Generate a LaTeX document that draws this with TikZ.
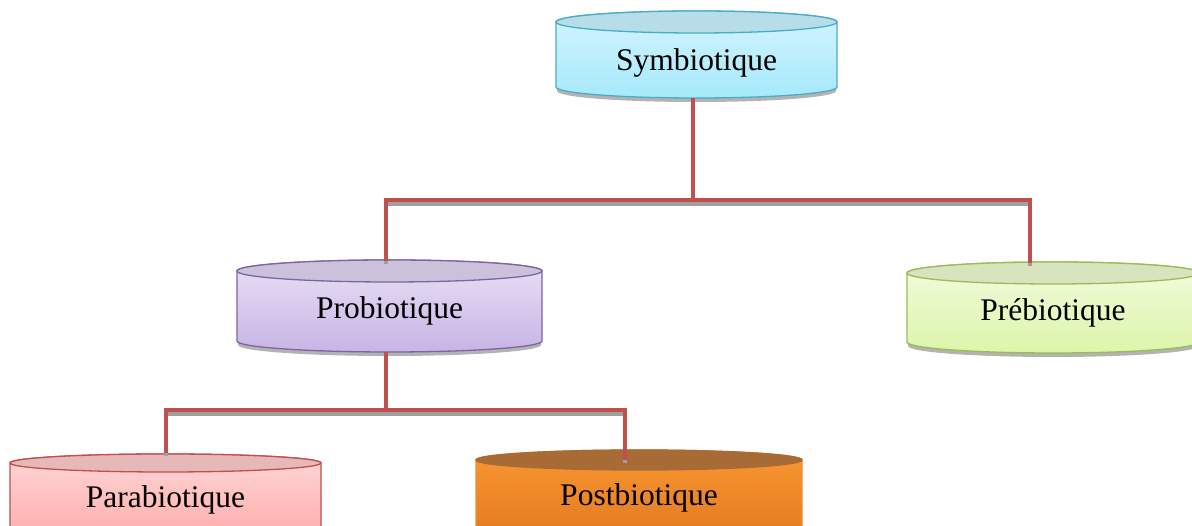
\documentclass[tikz,border=0pt]{standalone}
\usepackage{fontspec}
\setmainfont{Liberation Serif}
\definecolor{connred}{HTML}{C0504D}
\definecolor{shadowgrey}{HTML}{A0A0A0}
\tikzset{
  lbl/.style={font=\fontsize{31.5}{37}\selectfont, text=black, inner sep=0pt},
  conn/.style={draw=connred, line width=4.3pt, line cap=butt, line join=miter},
  connshadow/.style={draw=shadowgrey, line width=4.3pt, transform canvas={yshift=-3.5pt}},
  cylshadow/.style={fill=shadowgrey!80},
  symBody/.style={top color={rgb,255:red,212;green,244;blue,253}, bottom color={rgb,255:red,166;green,233;blue,251}, draw={rgb,255:red,75;green,172;blue,198}},
  symTop/.style={fill={rgb,255:red,183;green,221;blue,232}, draw={rgb,255:red,75;green,172;blue,198}},
  proBody/.style={top color={rgb,255:red,232;green,224;blue,244}, bottom color={rgb,255:red,200;green,180;blue,230}, draw={rgb,255:red,128;green,100;blue,162}},
  proTop/.style={fill={rgb,255:red,204;green,193;blue,218}, draw={rgb,255:red,128;green,100;blue,162}},
  preBody/.style={top color={rgb,255:red,242;green,252;blue,222}, bottom color={rgb,255:red,220;green,245;blue,170}, draw={rgb,255:red,155;green,187;blue,89}},
  preTop/.style={fill={rgb,255:red,215;green,228;blue,189}, draw={rgb,255:red,155;green,187;blue,89}},
  paraBody/.style={top color={rgb,255:red,255;green,214;blue,214}, bottom color={rgb,255:red,255;green,166;blue,166}, draw={rgb,255:red,192;green,80;blue,77}},
  paraTop/.style={fill={rgb,255:red,230;green,185;blue,184}, draw={rgb,255:red,192;green,80;blue,77}},
  postBody/.style={top color={rgb,255:red,250;green,150;blue,50}, bottom color={rgb,255:red,222;green,118;blue,28}, draw={rgb,255:red,240;green,140;blue,50}},
  postTop/.style={fill={rgb,255:red,168;green,107;blue,53}, draw={rgb,255:red,168;green,107;blue,53}},
}
% #1 style prefix, #2 x1, #3 x2, #4 y of top ellipse centre, #5 y of bottom ellipse centre, #6 y radius
\newcommand\drawcyl[6]{%
  \pgfmathsetmacro\cylrx{(#3-#2)/2}%
  \pgfmathsetmacro\cylcx{(#3+#2)/2}%
  \fill[cylshadow] (#2+1,#4-4) -- (#2+1,#5-4) arc[start angle=180,end angle=360,x radius=\cylrx-1,y radius=#6] -- (#3-1,#4-4) -- cycle;
  \shade[#1Body, line width=1.3pt] (#2,#4) -- (#2,#5) arc[start angle=180,end angle=360,x radius=\cylrx,y radius=#6] -- (#3,#4) arc[start angle=0,end angle=180,x radius=\cylrx,y radius=#6] -- cycle;
  \filldraw[#1Top, line width=1.3pt] (\cylcx,#4) ellipse[x radius=\cylrx, y radius=#6];
}
\begin{document}
\begin{tikzpicture}[x=1pt,y=1pt]
\useasboundingbox (0,0) rectangle (1192,526);
\clip (0,0) rectangle (1192,526);
\fill[white] (0,0) rectangle (1192,526);

% cylinders
\drawcyl{sym}{556}{837}{504}{439}{11}
\drawcyl{pro}{237}{542}{255}{185}{11}
\drawcyl{pre}{907}{1199}{253}{184}{11}
\drawcyl{para}{10}{321}{63}{-16}{9}
\drawcyl{post}{476}{802}{66}{-16}{10}

% labels
\node[lbl] (sym)  at (696.5,463) {Symbiotique};
\node[lbl] (pro)  at (389.5,215) {Probiotique};
\node[lbl] (pre)  at (1053,213) {Prébiotique};
\node[lbl] (para) at (165.5,26)  {Parabiotique};
\node[lbl] (post) at (639,28)    {Postbiotique};

% connector anchors
\coordinate (symB)  at (693,428);
\coordinate (busA)  at (693,326);
\coordinate (proT)  at (386,265);
\coordinate (preT)  at (1030,263);
\coordinate (proB)  at (386,174);
\coordinate (busB)  at (386,116);
\coordinate (paraT) at (166,73);
\coordinate (postT) at (625,66);

% shadows
\draw[connshadow] (proT) |- (busA) -| (preT);
\draw[connshadow] (paraT) |- (busB) -| (postT);
% connectors
\draw[conn] (symB) -- (busA);
\draw[conn] (proT) |- (busA) -| (preT);
\draw[conn] (proB) -- (busB);
\draw[conn] (paraT) |- (busB) -| (postT);
\end{tikzpicture}
\end{document}
